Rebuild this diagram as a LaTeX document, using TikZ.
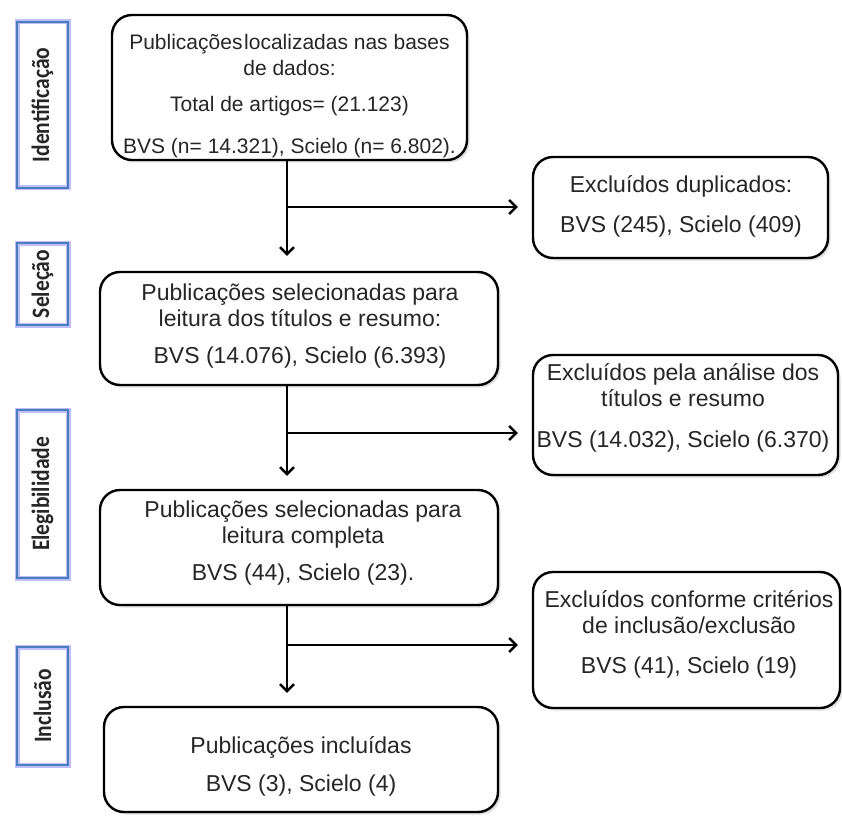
\documentclass[tikz,border=0pt]{standalone}
\usepackage{fontspec}
\setmainfont{Liberation Sans}
\newfontfamily\labfont{Carlito}
\usetikzlibrary{arrows.meta,shadows}
\begin{document}
\begin{tikzpicture}[x=1pt,y=-1pt,
  mainbox/.style={draw=black,line width=2.4pt,rounded corners=20pt,fill=white,
    drop shadow={opacity=0.25,shadow xshift=2.5pt,shadow yshift=-2.5pt},inner sep=0pt},
  txt/.style={align=center,font=\fontsize{23}{26}\selectfont,inner sep=0pt,text=black!85},
  txtA/.style={align=center,font=\fontsize{21}{26}\selectfont,inner sep=0pt,text=black!85},
  stagebox/.style={draw=blue!25,line width=5pt,fill=white,inner sep=0pt},
  stageline/.style={draw={rgb,255:red,74;green,126;blue,187},line width=1.8pt},
  stagetxt/.style={font=\labfont\bfseries\fontsize{25}{28}\selectfont,rotate=90,xscale=0.86,inner sep=0pt,text=black!85},
  arr/.style={line width=2pt,-{Straight Barb[length=7pt,width=14pt,line width=2.4pt]}}]
\useasboundingbox (0,0) rectangle (842,818);

% stage labels
\node[stagebox,minimum width=51pt,minimum height=166pt] (s1) at (42.5,105) {};
\node[stageline,minimum width=51pt,minimum height=166pt] (s1b) at (42.5,105) {};
\node[stagetxt] (s1t) at (42.5,105) {Identificação};
\node[stagebox,minimum width=51pt,minimum height=82pt] (s2) at (42.5,284) {};
\node[stageline,minimum width=51pt,minimum height=82pt] (s2b) at (42.5,284) {};
\node[stagetxt] (s2t) at (42.5,284) {Seleção};
\node[stagebox,minimum width=51pt,minimum height=168pt] (s3) at (42.5,494) {};
\node[stageline,minimum width=51pt,minimum height=168pt] (s3b) at (42.5,494) {};
\node[stagetxt] (s3t) at (42.5,494) {Elegibilidade};
\node[stagebox,minimum width=51pt,minimum height=118pt] (s4) at (42.5,706) {};
\node[stageline,minimum width=51pt,minimum height=118pt] (s4b) at (42.5,706) {};
\node[stagetxt] (s4t) at (42.5,706) {Inclusão};

% main boxes
\node[mainbox,minimum width=355pt,minimum height=145pt] (b1) at (289.5,87.5) {};
\node[txtA] (t1) at (289.5,96) {Publicações\hspace{0.08em}localizadas nas bases\\de dados:\\[10pt]Total de artigos= (21.123)\\[16pt]BVS (n= 14.321), Scielo (n= 6.802).};

\node[mainbox,minimum width=295pt,minimum height=101pt] (b2) at (680.5,207.5) {};
\node[txt] (t2) at (681,206) {Excluídos duplicados:\\[14pt]BVS (245), Scielo (409)};

\node[mainbox,minimum width=398pt,minimum height=113pt] (b3) at (299,328.5) {};
\node[txt] (t3) at (300,326) {Publicações selecionadas para\\leitura dos títulos e resumo:\\[11pt]BVS (14.076), Scielo (6.393)};

\node[mainbox,minimum width=305pt,minimum height=120pt] (b4) at (685.5,415) {};
\node[txt] (t4) at (683,408) {Excluídos pela análise dos\\títulos e resumo\\[15pt]BVS (14.032), Scielo (6.370)};

\node[mainbox,minimum width=398pt,minimum height=115pt] (b5) at (299,547.5) {};
\node[txt] (t5) at (303,543.5) {Publicações selecionadas para\\leitura completa\\[11pt]BVS (44), Scielo (23).};

\node[mainbox,minimum width=307pt,minimum height=136pt] (b6) at (686.5,640) {};
\node[txt] (t6) at (689,634) {Excluídos conforme critérios\\de inclusão/exclusão\\[14pt]BVS (41), Scielo (19)};

\node[mainbox,minimum width=394pt,minimum height=105pt] (b7) at (301,759.5) {};
\node[txt] (t7) at (301,766) {Publicações incluídas\\[12pt]BVS (3), Scielo (4)};

% connectors
\coordinate (v) at (287,0);
\coordinate (j1) at (287,207);
\coordinate (j2) at (287,433);
\coordinate (j3) at (287,645);
\draw[arr,shorten >=15pt] (b1.south -| v) -- (b3.north -| v);
\draw[arr,shorten >=14pt] (j1) -- (j1 -| b2.west);
\draw[arr,shorten >=13pt] (b3.south -| v) -- (b5.north -| v);
\draw[arr,shorten >=14pt] (j2) -- (j2 -| b4.west);
\draw[arr,shorten >=13pt] (b5.south -| v) -- (b7.north -| v);
\draw[arr,shorten >=14pt] (j3) -- (j3 -| b6.west);
\end{tikzpicture}
\end{document}
